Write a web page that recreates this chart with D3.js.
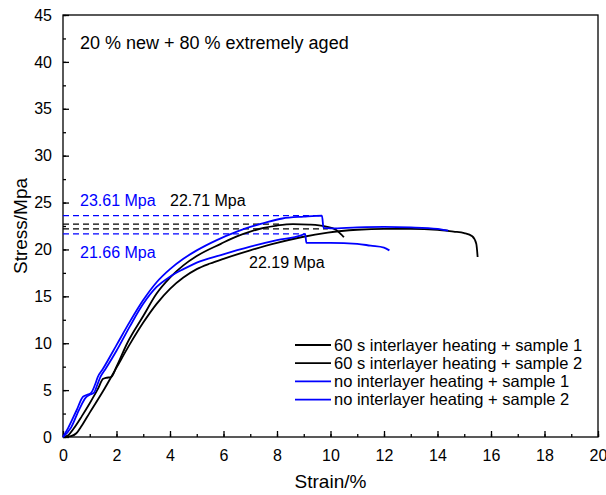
<!DOCTYPE html>
<html><head><meta charset="utf-8">
<script src="https://cdn.jsdelivr.net/npm/d3@7"></script>
<style>body{margin:0;background:#fff}svg{font-family:"Liberation Sans",Arial,sans-serif}</style>
</head><body><svg id="c" width="606" height="495"></svg>
<script>
const xTicks = [0,2,4,6,8,10,12,14,16,18,20];
const yTicks = [0,5,10,15,20,25,30,35,40,45];
const seriesNames = ["60 s interlayer heating + sample 1","60 s interlayer heating + sample 2","no interlayer heating + sample 1","no interlayer heating + sample 2"];
const seriesColors = ["#000000","#000000","#0000ff","#0000ff"];
// black, sample 1 (peak 22.71)
const black1 = [[0,0],[0.2,0.2],[0.4,0.9],[0.7,2.2],[1.0,3.6],[1.3,5.1],[1.5,6.2],[1.6,6.3],[1.8,6.4],[2.0,7.5],[2.4,10.0],[3,12.9],[3.5,15.3],[4,17.0],[4.5,18.3],[5,19.3],[5.9,20.6],[6.5,21.4],[7,21.9],[7.5,22.3],[8,22.55],[8.6,22.71],[9.2,22.65],[9.8,22.45],[10.2,22.1],[10.4,21.6],[10.5,21.3]];
// black, sample 2 (22.19 label, long curve)
const black2 = [[0,0],[0.3,0.1],[0.5,0.4],[0.7,1.2],[1.0,2.6],[1.5,4.9],[2,7.4],[2.5,9.9],[3,12.2],[3.5,14.2],[4,15.8],[4.5,17.0],[5,17.9],[5.5,18.5],[6,19.0],[7,19.9],[8,20.7],[8.9,21.3],[9.9,21.8],[11,22.1],[12,22.2],[13,22.2],[14,22.1],[14.6,21.9],[15,21.75],[15.3,21.4],[15.45,20.6],[15.5,19.2]];
// blue, sample 1 (peak 23.61)
const blue1 = [[0,0],[0.2,1.0],[0.5,2.8],[0.75,4.3],[0.9,4.5],[1.05,4.7],[1.2,5.6],[1.3,6.4],[1.5,7.3],[2,9.8],[2.5,12.3],[3,14.6],[3.5,16.5],[4,17.9],[4.5,19.0],[5,19.9],[5.75,21.0],[6.5,21.9],[7,22.4],[7.5,22.8],[8.2,23.3],[9,23.5],[9.68,23.61],[9.74,22.3],[10,22.25],[11,22.35],[12,22.4],[13,22.35],[14,22.2],[14.4,22.0]];
// blue, sample 2 (peak 21.66)
const blue2 = [[0,0],[0.3,1.0],[0.6,2.9],[0.85,4.2],[1.0,4.5],[1.15,4.7],[1.3,5.7],[1.4,6.4],[1.6,7.3],[2,9.2],[2.5,11.8],[3,14.2],[3.5,16.0],[4,17.1],[4.5,17.9],[5,18.6],[5.9,19.4],[7,20.3],[8,21.0],[8.9,21.5],[9.05,21.66],[9.1,20.7],[10,20.7],[11,20.6],[11.5,20.4],[12,20.2],[12.2,19.9]];
const peakValues = [22.71, 22.19, 23.61, 21.66];
const peakStrain = [8.2, 9.9, 9.68, 9.0];
const peakLabels = ["22.71 Mpa","22.19 Mpa","23.61 Mpa","21.66 Mpa"];
const series = [black1, black2, blue1, blue2];

const svg = d3.select("#c");
const L=63, R=598, T=15, B=437;
const x = d3.scaleLinear().domain([0,20]).range([L,R]);
const y = d3.scaleLinear().domain([0,45]).range([B,T]);
const FONT = "Liberation Sans, Arial";

// frame
svg.append("rect").attr("x",L).attr("y",T).attr("width",R-L).attr("height",B-T)
  .attr("fill","none").attr("stroke","#000").attr("stroke-width",1.3);

// x axis
const gx = svg.append("g").attr("transform",`translate(0,${B})`);
gx.call(d3.axisBottom(x).tickValues(d3.range(0,21,1)).tickSize(-3).tickFormat(""))
  .call(g=>g.select(".domain").remove());
gx.append("g").call(d3.axisBottom(x).tickValues(xTicks).tickSize(-6).tickPadding(13).tickFormat(d3.format("d")))
  .call(g=>g.select(".domain").remove())
  .call(g=>g.selectAll("text").attr("font-size",16).attr("fill","#000").attr("font-family",FONT));
gx.selectAll("line").attr("stroke","#000").attr("stroke-width",1.3);

// y axis
const gy = svg.append("g").attr("transform",`translate(${L},0)`);
gy.call(d3.axisLeft(y).tickValues(d3.range(0,45.1,2.5)).tickSize(-3).tickFormat(""))
  .call(g=>g.select(".domain").remove());
gy.append("g").call(d3.axisLeft(y).tickValues(yTicks).tickSize(-6).tickPadding(11).tickFormat(d3.format("d")))
  .call(g=>g.select(".domain").remove())
  .call(g=>g.selectAll("text").attr("font-size",16).attr("fill","#000").attr("font-family",FONT));
gy.selectAll("line").attr("stroke","#000").attr("stroke-width",1.3);

// axis titles
svg.append("text").attr("x",(L+R)/2).attr("y",488).attr("text-anchor","middle").attr("font-size",19).text("Strain/%");
svg.append("text").attr("transform",`translate(27,${(T+B)/2}) rotate(-90)`).attr("text-anchor","middle").attr("font-size",19).text("Stress/Mpa");

// dashed peak lines
peakValues.forEach((v,i)=>{
  svg.append("line").attr("x1",x(0)).attr("x2",x(peakStrain[i])).attr("y1",y(v)).attr("y2",y(v))
    .attr("stroke",seriesColors[i]).attr("stroke-width",1.3).attr("stroke-dasharray","6,4");
});

// curves
const line = d3.line().x(d=>x(d[0])).y(d=>y(d[1])).curve(d3.curveMonotoneX);
series.forEach((s,i)=>{
  svg.append("path").datum(s).attr("d",line).attr("fill","none")
    .attr("stroke",seriesColors[i]).attr("stroke-width",1.8).attr("stroke-linejoin","round");
});

// annotations
svg.append("text").attr("x",80).attr("y",49).attr("font-size",18).text("20 % new + 80 % extremely aged");
const labelPos = [[170,206],[249,268],[80,206],[80,258]];
peakLabels.forEach((t,i)=>{
  svg.append("text").attr("x",labelPos[i][0]).attr("y",labelPos[i][1]).attr("font-size",16)
    .attr("fill",seriesColors[i]).text(t);
});

// legend
const leg = svg.append("g");
seriesNames.forEach((n,i)=>{
  const yy = 345 + i*18.2;
  leg.append("line").attr("x1",295).attr("x2",331).attr("y1",yy).attr("y2",yy).attr("stroke",seriesColors[i]).attr("stroke-width",1.8);
  leg.append("text").attr("x",334).attr("y",yy+5.5).attr("font-size",16.5).text(n);
});
</script></body></html>
